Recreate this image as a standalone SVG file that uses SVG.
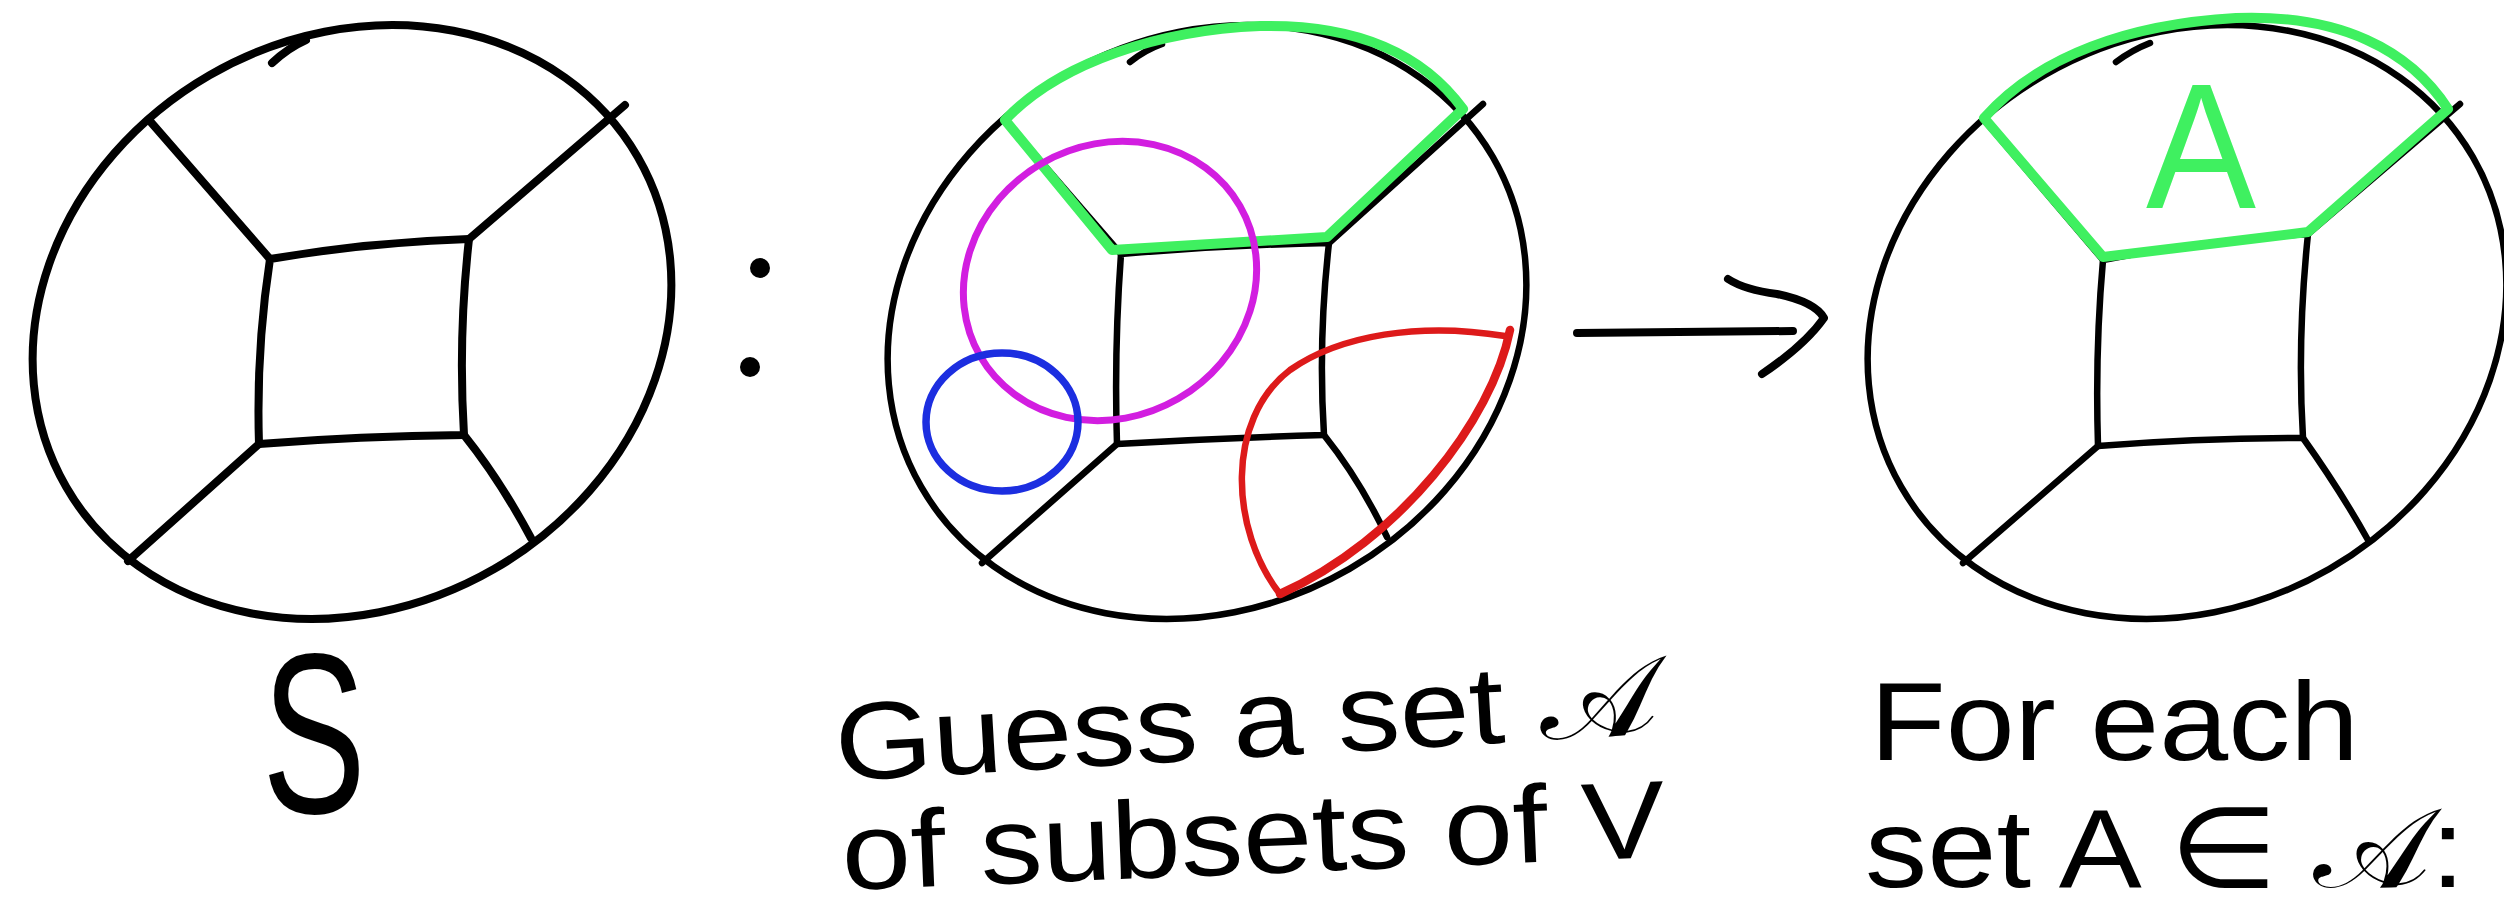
<svg xmlns="http://www.w3.org/2000/svg" width="2504" height="916" viewBox="0 0 2504 916">
<defs>
<ellipse id="outline" cx="352" cy="322" rx="330" ry="285" transform="rotate(-30 352 322)"/>
</defs>
<style>
.ink{fill:none;stroke:#000;stroke-width:6.5;stroke-linecap:round;stroke-linejoin:round}
.thick{stroke-width:8}
.green{fill:none;stroke:#3ff060;stroke-width:10;stroke-linecap:round;stroke-linejoin:round}
.mag{fill:none;stroke:#d21ee0;stroke-width:7}
.blue{fill:none;stroke:#1c2ee0;stroke-width:7.5}
.red{fill:none;stroke:#dd1a1a;stroke-width:6.5;stroke-linejoin:round;stroke-linecap:round}
.hand{font-family:"Liberation Sans","DejaVu Sans",sans-serif;fill:#000}
</style>
<rect width="2504" height="916" fill="#fff"/>
<g id="panel-S">
<use href="#outline" class="ink thick"/>
<path class="ink thick" d="M272,63 Q288,48 306,40"/>
<path class="ink thick" d="M270,259 Q370,242 469,239 Q458,337 464,435 Q360,436 259,444 Q256,350 270,259"/>
<path class="ink thick" d="M270,259 L149,120 M469,239 L625,105 M464,435 Q500,480 531,538 M259,444 L128,561"/>
<text class="hand" x="314" y="813" font-size="228" text-anchor="middle" textLength="104" lengthAdjust="spacingAndGlyphs">S</text>
</g>
<g id="colon">
<circle cx="760" cy="268" r="10"/>
<circle cx="750" cy="367" r="10"/>
</g>
<g id="panel-guess">
<use href="#outline" class="ink" transform="translate(855 0)"/>
<path class="ink" d="M1130,62 Q1145,50 1162,44"/>
<path class="ink" d="M1121,254 Q1225,245 1329,243 Q1318,340 1324,435 Q1220,438 1117,444 Q1114,350 1121,254"/>
<path class="ink" d="M1121,254 L1005,120 M1329,243 L1483,104 M1324,435 Q1360,480 1387,537 M1117,444 L982,563"/>
<path class="green" d="M1005,120 C1060,62 1160,30 1260,26 C1350,24 1420,50 1463,109 L1327,237 L1112,250 Z"/>
<ellipse class="mag" cx="1110" cy="281" rx="150" ry="136" transform="rotate(-30 1110 281)"/>
<ellipse class="blue" cx="1002" cy="422" rx="76" ry="69"/>
<path class="red" d="M1280,594 C1230,530 1225,420 1290,370 C1340,335 1420,322 1505,336"/>
<path class="red" style="stroke-width:8.5" d="M1510,330 C1492,420 1400,540 1280,594"/>
<text class="hand" x="837" y="781" font-size="110" textLength="824" lengthAdjust="spacingAndGlyphs" transform="rotate(-3.3 837 781)">Guess a set 𝒜</text>
<text class="hand" x="843" y="890" font-size="110" textLength="824" lengthAdjust="spacingAndGlyphs" transform="rotate(-2.3 843 890)">of subsets of V</text>
</g>
<g id="connectors">
<path class="ink" style="stroke-width:8" d="M1577,333 L1793,331 M1728,279 Q1745,290 1777,294 Q1815,302 1824,318 Q1805,345 1762,374"/>
</g>
<g id="panel-A">
<use href="#outline" class="ink" transform="translate(1835 0)"/>
<path class="ink" d="M2116,62 Q2132,50 2150,43"/>
<path class="ink" d="M2103,260 Q2205,240 2308,234 Q2297,340 2303,438 Q2200,438 2098,446 Q2095,350 2103,260"/>
<path class="ink" d="M2103,260 L1984,120 M2308,234 L2460,104 M2303,438 Q2340,490 2368,540 M2098,446 L1963,563"/>
<path class="green" d="M1984,118 C2040,55 2130,24 2236,18 C2340,14 2410,50 2448,109 L2308,232 L2103,257 Z"/>
<text x="2201" y="208" font-size="178" text-anchor="middle" textLength="110" lengthAdjust="spacingAndGlyphs" font-family="Liberation Sans,sans-serif" fill="#3ff060">A</text>
<text class="hand" x="1870" y="760" font-size="112" textLength="489" lengthAdjust="spacingAndGlyphs">For each</text>
<text class="hand" x="1865" y="887" font-size="112" textLength="600" lengthAdjust="spacingAndGlyphs">set A ∈ 𝒜:</text>
</g>
</svg>
